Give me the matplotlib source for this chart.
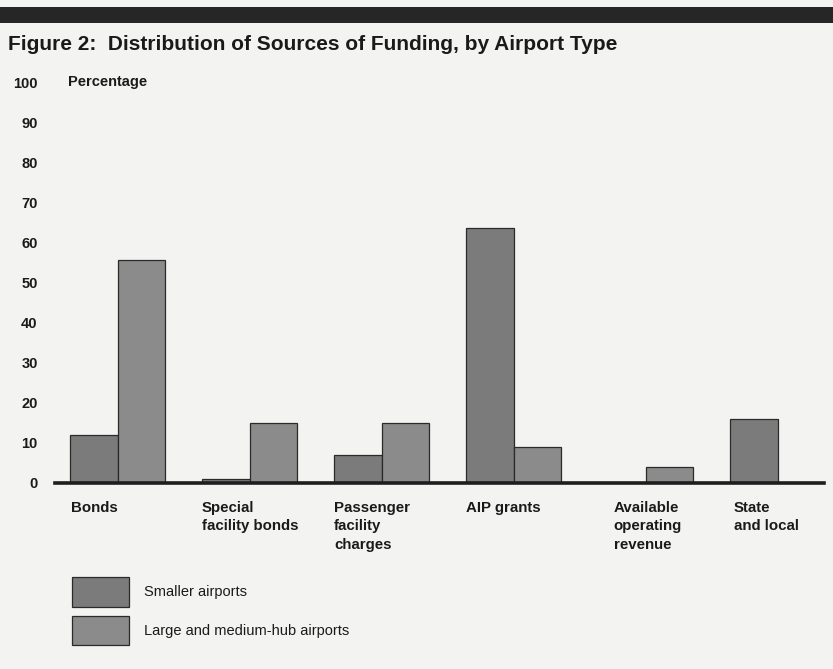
import matplotlib
matplotlib.use("Agg")
import matplotlib.pyplot as plt
import numpy as np

categories = ["Bonds", "Special\nfacility bonds", "Passenger\nfacility\ncharges",
              "AIP grants", "Available\noperating\nrevenue", "State\nand local"]
smaller = [12, 1, 7, 63.5, 0, 16]
large_medium = [55.5, 15, 15, 9, 4, 0]
series_names = ["Smaller airports", "Large and medium-hub airports"]
yticks = [0, 10, 20, 30, 40, 50, 60, 70, 80, 90, 100]

plt.rcParams['font.family'] = ['Liberation Sans', 'DejaVu Sans']

bg = '#f3f3f1'
fig = plt.figure(figsize=(8.33, 6.69), dpi=100, facecolor=bg)

# dark band across the top
fig.add_artist(plt.Rectangle((0, 1 - 23/669), 1, 16/669, transform=fig.transFigure,
                             facecolor='#262626', edgecolor='none'))
fig.text(8/833, 1 - 45/669, "Figure 2:  Distribution of Sources of Funding, by Airport Type",
         fontsize=15, fontweight='bold', va='center', ha='left', color='#1a1a1a')

ax = fig.add_axes([55/833, 1 - 483/669, (824 - 55)/833, (483 - 82)/669])
ax.set_facecolor(bg)

x = np.arange(len(categories))
w = 0.36
b1 = ax.bar(x - w/2, smaller, w, color='#7b7b7b', edgecolor='#2a2a2a', linewidth=0.9,
            label=series_names[0])
b2 = ax.bar(x + w/2, large_medium, w, color='#8b8b8b', edgecolor='#2a2a2a', linewidth=0.9,
            label=series_names[1])

ax.set_xlim(-0.4735, 5.352)
ax.set_ylim(0, 100)
ax.axhline(0, color='#1e1e1e', linewidth=2.6, zorder=5, clip_on=False)
for s in ax.spines.values():
    s.set_visible(False)
ax.set_xticks([])
ax.set_yticks(yticks)
ax.tick_params(axis='y', length=0, pad=12.5, labelsize=10.5, colors='#1a1a1a')
for lab in ax.get_yticklabels():
    lab.set_fontweight('bold')

fig.text(68/833, 1 - 82/669, "Percentage", fontsize=10.5, fontweight='bold',
         va='center', ha='left', color='#1a1a1a')

# category labels, left aligned under the first bar of each group
offsets = [0.01, 0, 0, 0, 0.12, 0.03]
for i, c in enumerate(categories):
    ax.text(i - w + offsets[i], -4.5, c, ha='left', va='top', fontsize=10.8,
            fontweight='bold', linespacing=1.4, color='#1a1a1a', clip_on=False)

leg = fig.legend(handles=[b1, b2], loc='upper left', bbox_to_anchor=(59/833, 1 - 564/669),
                 frameon=False, handlelength=3.9, handleheight=2.75, handletextpad=1.0,
                 labelspacing=0.62, fontsize=10.5)
for t in leg.get_texts():
    t.set_color('#1a1a1a')

fig.savefig("out.png", dpi=100, facecolor=bg)
